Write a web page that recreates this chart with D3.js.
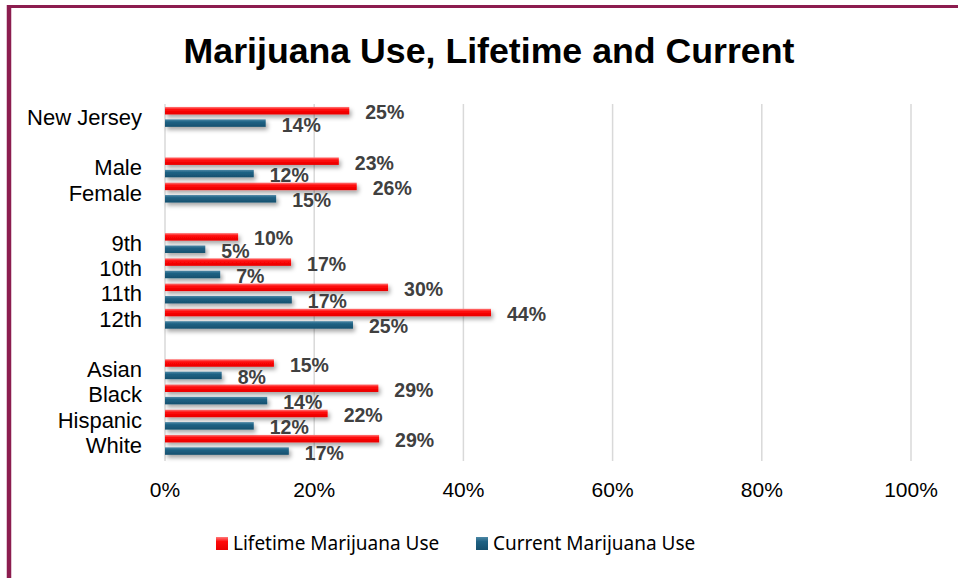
<!DOCTYPE html>
<html>
<head>
<meta charset="utf-8">
<script src="https://cdn.jsdelivr.net/npm/d3@7"></script>
<style>
  body { margin: 0; background: #fff; }
  svg { display: block; }
</style>
</head>
<body>
<svg></svg>
<script>

// data ("" = empty row between groups)
var categories = ["New Jersey", "", "Male", "Female", "", "9th", "10th", "11th", "12th", "", "Asian", "Black", "Hispanic", "White"]
var lifetime = [24.7, null, 23.3, 25.7, null, 9.8, 16.9, 29.9, 43.7, null, 14.6, 28.6, 21.8, 28.7]
var current  = [13.5, null, 11.9, 14.9, null, 5.4, 7.4, 17.0, 25.2, null, 7.6, 13.7, 11.9, 16.6]
var xTicks = [0, 20, 40, 60, 80, 100]
var seriesNames = ["Lifetime Marijuana Use", "Current Marijuana Use"]

var width = 958, height = 578

var svg = d3.select("svg")
    .attr("width", width)
    .attr("height", height)

var defs = svg.append("defs")

// bar gradients, a bit lighter on top
var gRed = defs.append("linearGradient").attr("id", "gradRed").attr("x1", 0).attr("y1", 0).attr("x2", 0).attr("y2", 1)
gRed.append("stop").attr("offset", "0%").attr("stop-color", "#ff7a7a")
gRed.append("stop").attr("offset", "35%").attr("stop-color", "#ff0a0a")
gRed.append("stop").attr("offset", "100%").attr("stop-color", "#e80000")

var gBlue = defs.append("linearGradient").attr("id", "gradBlue").attr("x1", 0).attr("y1", 0).attr("x2", 0).attr("y2", 1)
gBlue.append("stop").attr("offset", "0%").attr("stop-color", "#4d88a6")
gBlue.append("stop").attr("offset", "35%").attr("stop-color", "#1f6284")
gBlue.append("stop").attr("offset", "100%").attr("stop-color", "#16506e")

var shadow = defs.append("filter").attr("id", "shadow")
    .attr("x", "-5%").attr("y", "-50%").attr("width", "115%").attr("height", "250%")
shadow.append("feDropShadow")
    .attr("dx", 2).attr("dy", 3).attr("stdDeviation", 2)
    .attr("flood-color", "#000").attr("flood-opacity", 0.35)

// frame
svg.append("line")
    .attr("x1", 9).attr("y1", 5).attr("x2", 9).attr("y2", height)
    .style("stroke", "#8c1d4f").style("stroke-width", 4.5)
svg.append("line")
    .attr("x1", 7).attr("y1", 6.5).attr("x2", width).attr("y2", 6.5)
    .style("stroke", "#8c1d4f").style("stroke-width", 3)

// title
svg.append("text")
    .attr("x", 489)
    .attr("y", 63)
    .attr("text-anchor", "middle")
    .style("font-family", "'Liberation Sans', Arial, sans-serif")
    .style("font-weight", "bold")
    .style("font-size", "35.7px")
    .style("fill", "#000")
    .text("Marijuana Use, Lifetime and Current")

// scales
var x = d3.scaleLinear().domain([0, 100]).range([165, 911])
var y = d3.scaleBand().domain(d3.range(categories.length)).range([104.3, 457.5])

var barH = 7.5
var off = 6.2

// gridlines
svg.append("g")
    .selectAll("line")
    .data(xTicks)
    .enter().append("line")
    .attr("x1", function (d) { return x(d) })
    .attr("x2", function (d) { return x(d) })
    .attr("y1", 104)
    .attr("y2", 461)
    .style("stroke", "#d9d9d9")
    .style("stroke-width", 1.5)

// x tick labels
svg.append("g")
    .selectAll("text")
    .data(xTicks)
    .enter().append("text")
    .attr("x", function (d) { return x(d) })
    .attr("y", 497)
    .attr("text-anchor", "middle")
    .style("font-family", "'Liberation Sans', Arial, sans-serif")
    .style("font-size", "21px")
    .style("fill", "#000")
    .text(function (d) { return d + "%" })

// category labels
svg.append("g")
    .selectAll("text")
    .data(categories)
    .enter().append("text")
    .attr("x", 142)
    .attr("y", function (d, i) { return y(i) + y.bandwidth() / 2 })
    .attr("dy", "0.36em")
    .attr("text-anchor", "end")
    .style("font-family", "'Liberation Sans', Arial, sans-serif")
    .style("font-size", "22px")
    .style("fill", "#000")
    .text(function (d) { return d })

var fmt = function (v) { return Math.round(v) + "%" }

function drawSeries(values, fill, shift) {
    var g = svg.append("g")
    var idx = d3.range(values.length).filter(function (i) { return values[i] != null })

    g.selectAll("rect")
        .data(idx)
        .enter().append("rect")
        .attr("x", x(0))
        .attr("y", function (i) { return y(i) + y.bandwidth() / 2 + shift - barH / 2 })
        .attr("width", function (i) { return x(values[i]) - x(0) })
        .attr("height", barH)
        .attr("fill", fill)
        .attr("filter", "url(#shadow)")

    g.selectAll("text")
        .data(idx)
        .enter().append("text")
        .attr("x", function (i) { return x(values[i]) + 16 })
        .attr("y", function (i) { return y(i) + y.bandwidth() / 2 + shift + 1.5 })
        .attr("dy", "0.36em")
        .style("font-family", "'Liberation Sans', Arial, sans-serif")
        .style("font-weight", "bold")
        .style("font-size", "19.5px")
        .style("fill", "#404040")
        .text(function (i) { return fmt(values[i]) })
}

drawSeries(lifetime, "url(#gradRed)", -off)
drawSeries(current, "url(#gradBlue)", off)

// legend
var legend = [
    {name: seriesNames[0], fill: "url(#gradRed)", x: 216},
    {name: seriesNames[1], fill: "url(#gradBlue)", x: 476}
]
var lg = svg.append("g").selectAll("g").data(legend).enter().append("g")
lg.append("rect")
    .attr("x", function (d) { return d.x })
    .attr("y", 537)
    .attr("width", 12)
    .attr("height", 13)
    .attr("fill", function (d) { return d.fill })
lg.append("text")
    .attr("x", function (d) { return d.x + 17 })
    .attr("y", 550)
    .style("font-family", "'Noto Sans', sans-serif")
    .style("font-size", "19px")
    .style("fill", "#000")
    .text(function (d) { return d.name })

</script>
</body>
</html>
